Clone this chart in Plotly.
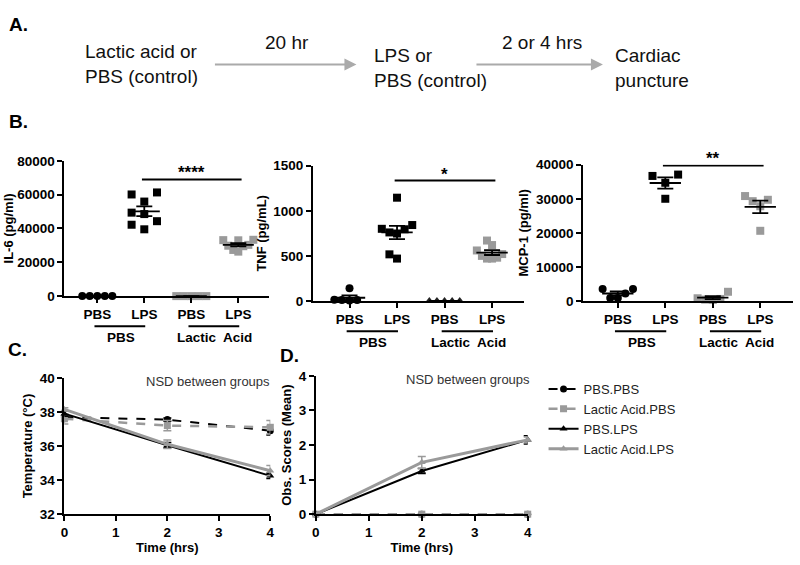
import numpy as np
import plotly.graph_objects as go

W, H = 800, 565

# ---------------- data ----------------
b_categories = ["PBS", "LPS", "PBS", "LPS"]
b_group_labels = ["PBS", "Lactic  Acid"]

il6_pbs_pbs = [0, 0, 0, 0, 0]
il6_pbs_lps = [61300, 55900, 60100, 49350, 44300, 48500, 39500, 42200]
il6_la_pbs = [0, 0, 0, 0, 0]
il6_la_lps = [33300, 33100, 33000, 30300, 29800, 29500, 27300, 26300]

tnf_pbs_pbs = [140, 10, 5, 15, 10]
tnf_pbs_lps = [1145, 842, 800, 760, 795, 748, 470, 517]
tnf_la_pbs = [0, 0, 0, 0, 0]
tnf_la_lps = [670, 620, 560, 520, 500, 480, 470, 470]

mcp_pbs_pbs = [3500, 3500, 2200, 900, 900]
mcp_pbs_lps = [36700, 37100, 34700, 30000]
mcp_la_pbs = [2700, 800, 600, 400, 300]
mcp_la_lps = [30800, 29700, 29300, 27800, 20600]

sig_labels = ["****", "*", "**"]
sig_levels = [69000, 1335, 39800]

time_hrs = [0, 2, 4]
series_names = ["PBS.PBS", "Lactic Acid.PBS", "PBS.LPS", "Lactic Acid.LPS"]

temp_pbs_pbs = [37.7, 37.55, 36.9]
temp_pbs_pbs_sem = [0.15, 0.1, 0.25]
temp_la_pbs = [37.6, 37.2, 37.1]
temp_la_pbs_sem = [0.3, 0.3, 0.4]
temp_pbs_lps = [37.9, 36.05, 34.25]
temp_pbs_lps_sem = [0.15, 0.15, 0.15]
temp_la_lps = [38.15, 36.1, 34.55]
temp_la_lps_sem = [0.1, 0.25, 0.3]

obs_pbs_pbs = [0, 0, 0]
obs_pbs_pbs_sem = [0, 0, 0]
obs_la_pbs = [0, 0, 0]
obs_la_pbs_sem = [0, 0, 0]
obs_pbs_lps = [0, 1.25, 2.15]
obs_pbs_lps_sem = [0, 0.07, 0.12]
obs_la_lps = [0, 1.5, 2.15]
obs_la_lps_sem = [0, 0.17, 0.08]

# ---------------- style ----------------
BLACK = "#000000"
GRAY = "#9a9a9a"
FONT = "Arial, Liberation Sans, sans-serif"
TICK_SIZE = 13.5


def px(x):
    return x / W


def py(y):
    return 1 - y / H


def dom_x(left, right):
    return [px(left), px(right)]


def dom_y(top, bottom):
    return [py(bottom), py(top)]


def axis_style(**kw):
    d = dict(showgrid=False, zeroline=False, showline=True, linecolor=BLACK,
             linewidth=2, ticks="outside", ticklen=5, tickwidth=2,
             tickcolor=BLACK, tickformat="d",
             tickfont=dict(family=FONT, size=TICK_SIZE, color=BLACK, weight="bold"),
             title_font=dict(family=FONT, size=13, color=BLACK, weight="bold"),
             fixedrange=True)
    d.update(kw)
    return d


def swarm(vals, center, px_per_unit, step=0.27, min_px=11, max_half=0.32):
    """Scatter-dot-plot layout: spread close values sideways, compress to max width."""
    vals = np.asarray(vals, dtype=float)
    offs = np.zeros(len(vals))
    placed = []
    for i in np.argsort(vals, kind="stable"):
        ypx = vals[i] * px_per_unit
        k = 0
        while True:
            off = 0.0 if k == 0 else ((k + 1) // 2) * step * (1 if k % 2 == 0 else -1)
            ok = all(abs(ypx - yy) >= min_px or abs(off - po) >= step * 0.99
                     for po, yy in placed)
            if ok:
                break
            k += 1
        placed.append((off, ypx))
        offs[i] = off
    widest = np.max(np.abs(offs))
    if widest > max_half:
        offs = offs * (max_half / widest)
    return center + offs


fig = go.Figure()
layout = {}
shapes = []
annotations = []

# ---------------- panel B ----------------
b_panels = [
    dict(idx=1, xd=dom_x(61, 268), yd=dom_y(158, 297), xr=[0.30, 4.66], yr=[0, 80000], dt=20000,
         title="IL-6 (pg/ml)", sd=1,
         groups=[il6_pbs_pbs, il6_pbs_lps, il6_la_pbs, il6_la_lps],
         syms=["circle", "square", "square", "square"], cols=[BLACK, BLACK, GRAY, GRAY]),
    dict(idx=2, xd=dom_x(312, 525), yd=dom_y(163, 302), xr=[0.229, 4.667], yr=[0, 1500], dt=500,
         title="TNF (pg/mL)", sd=4,
         groups=[tnf_pbs_pbs, tnf_pbs_lps, tnf_la_pbs, tnf_la_lps],
         syms=["circle", "square", "triangle-up", "square"], cols=[BLACK, BLACK, "#222222", GRAY]),
    dict(idx=3, xd=dom_x(585, 797), yd=dom_y(162, 302), xr=[0.27, 4.69], yr=[0, 40000], dt=10000,
         title="MCP-1 (pg/ml)", sd=4,
         groups=[mcp_pbs_pbs, mcp_pbs_lps, mcp_la_pbs, mcp_la_lps],
         syms=["circle", "square", "square", "square"], cols=[BLACK, BLACK, GRAY, GRAY]),
]

for p, sig_lab, sig_val in zip(b_panels, sig_labels, sig_levels):
    i = p["idx"]
    xa, ya = f"x{i}", f"y{i}"
    layout[f"xaxis{i}"] = axis_style(domain=p["xd"], range=p["xr"], anchor=ya,
                                     tickvals=[1, 2, 3, 4], ticktext=b_categories)
    layout[f"yaxis{i}"] = axis_style(domain=p["yd"], range=p["yr"], anchor=xa, dtick=p["dt"],
                                     title=dict(text=p["title"], standoff=p["sd"]))
    px_per_unit = (p["yd"][1] - p["yd"][0]) * H / (p["yr"][1] - p["yr"][0])
    for c, (vals, sym, col) in enumerate(zip(p["groups"], p["syms"], p["cols"]), start=1):
        xs = swarm(vals, c, px_per_unit)
        fig.add_trace(go.Scatter(x=xs, y=vals, mode="markers", xaxis=xa, yaxis=ya,
                                 marker=dict(symbol=sym, size=8, color=col, line=dict(width=0)),
                                 cliponaxis=False, showlegend=False, hoverinfo="y"))
        m = float(np.mean(vals))
        sem = float(np.std(vals, ddof=1) / np.sqrt(len(vals)))
        fig.add_trace(go.Scatter(x=[c - 0.33, c + 0.33], y=[m, m], mode="lines", xaxis=xa, yaxis=ya,
                                 line=dict(color=BLACK, width=1.8), showlegend=False, hoverinfo="skip"))
        fig.add_trace(go.Scatter(x=[c], y=[m], mode="markers", xaxis=xa, yaxis=ya,
                                 marker=dict(size=1, color="rgba(0,0,0,0)"),
                                 error_y=dict(type="data", array=[sem], color=BLACK, thickness=1.8, width=8),
                                 cliponaxis=False, showlegend=False, hoverinfo="skip"))
    # significance bar
    shapes.append(dict(type="line", xref=xa, yref=ya, x0=1.95, x1=4.07, y0=sig_val, y1=sig_val,
                       line=dict(color=BLACK, width=2)))
    annotations.append(dict(xref=xa, yref=ya, x=3, y=sig_val, text=sig_lab, showarrow=False,
                            yanchor="bottom", yshift=-5,
                            font=dict(family=FONT, size=17, color=BLACK, weight="bold")))
    # group labels under the axis
    bottom_px = (1 - p["yd"][0]) * H
    for (c1, c2), lab in zip([(1, 2), (3, 4)], b_group_labels):
        shapes.append(dict(type="line", xref=xa, yref="paper", x0=c1 - 0.06, x1=c2 + 0.02,
                           y0=py(bottom_px + 31), y1=py(bottom_px + 31),
                           line=dict(color=BLACK, width=2)))
        annotations.append(dict(xref=xa, yref="paper", x=(c1 + c2) / 2, y=py(bottom_px + 43),
                                text=lab, showarrow=False, yanchor="middle",
                                font=dict(family=FONT, size=13.5, color=BLACK, weight="bold")))

# ---------------- panels C and D ----------------
styles = [
    dict(sym="circle", col=BLACK, dash="dash", w=2),
    dict(sym="square", col=GRAY, dash="dash", w=2.5),
    dict(sym="triangle-up", col=BLACK, dash="solid", w=2),
    dict(sym="triangle-up", col=GRAY, dash="solid", w=3),
]
temp_series = [(temp_pbs_pbs, temp_pbs_pbs_sem), (temp_la_pbs, temp_la_pbs_sem),
               (temp_pbs_lps, temp_pbs_lps_sem), (temp_la_lps, temp_la_lps_sem)]
obs_series = [(obs_pbs_pbs, obs_pbs_pbs_sem), (obs_la_pbs, obs_la_pbs_sem),
              (obs_pbs_lps, obs_pbs_lps_sem), (obs_la_lps, obs_la_lps_sem)]

layout["xaxis4"] = axis_style(domain=dom_x(61, 269), range=[0, 4], anchor="y4", dtick=1,
                              title=dict(text="Time (hrs)", standoff=4))
layout["yaxis4"] = axis_style(domain=dom_y(381, 521), range=[32, 40], anchor="x4", dtick=2,
                              title=dict(text="Temperature (°C)", standoff=4))
layout["xaxis5"] = axis_style(domain=dom_x(315, 529), range=[0, 4], anchor="y5", dtick=1,
                              title=dict(text="Time (hrs)", standoff=4))
layout["yaxis5"] = axis_style(domain=dom_y(379, 521), range=[0, 4], anchor="x5", dtick=1,
                              title=dict(text="Obs. Scores (Mean)", standoff=4))

for name, st, (tv, ts), (ov, os_) in zip(series_names, styles, temp_series, obs_series):
    for xa, ya, vals, sems, leg in [("x4", "y4", tv, ts, True), ("x5", "y5", ov, os_, False)]:
        fig.add_trace(go.Scatter(
            x=time_hrs, y=vals, mode="lines+markers", name=name, xaxis=xa, yaxis=ya,
            line=dict(color=st["col"], width=st["w"], dash=st["dash"]),
            marker=dict(symbol=st["sym"], size=7, color=st["col"]),
            error_y=dict(type="data", array=sems, color=st["col"], thickness=1.5, width=4),
            cliponaxis=False, showlegend=leg, legendgroup=name))

for xr_, yc in [(271, 385), (533, 383)]:
    annotations.append(dict(xref="paper", yref="paper", x=px(xr_), y=py(yc), text="NSD between groups",
                            showarrow=False, xanchor="right", yanchor="middle",
                            font=dict(family=FONT, size=13, color="#333333")))

# ---------------- panel A (workflow) ----------------
AFONT = dict(family=FONT, size=19, color="#111111")
for txt, x, y, xa_ in [
    ("Lactic acid or<br>PBS (control)", 80, 59, "left"),
    ("20 hr", 286, 36, "center"),
    ("LPS or<br>PBS (control)", 372, 63, "left"),
    ("2 or 4 hrs", 543, 36, "center"),
    ("Cardiac<br>puncture", 615, 63, "left"),
]:
    annotations.append(dict(xref="paper", yref="paper", x=px(x), y=py(y), text=txt, showarrow=False,
                            xanchor=xa_, yanchor="middle", align="left", font=AFONT))
for head, tail in [(356, 213), (605, 477)]:
    annotations.append(dict(xref="paper", yref="paper", x=px(head), y=py(59), ax=tail - head, ay=0,
                            text="", showarrow=True, arrowhead=2, arrowsize=1.2, arrowwidth=2,
                            arrowcolor="#aaaaaa"))

# panel letters
for txt, x, y in [("A.", 3, 18), ("B.", 3, 118), ("C.", 2, 352), ("D.", 277, 358)]:
    annotations.append(dict(xref="paper", yref="paper", x=px(x), y=py(y), text=txt, showarrow=False,
                            xanchor="left", yanchor="middle",
                            font=dict(family=FONT, size=19, color=BLACK, weight="bold")))

fig.update_layout(
    width=W, height=H, margin=dict(l=0, r=0, t=0, b=0),
    paper_bgcolor="white", plot_bgcolor="white",
    showlegend=True,
    legend=dict(x=px(545), y=py(377), xanchor="left", yanchor="top",
                font=dict(family=FONT, size=13, color="#222222"),
                bgcolor="rgba(0,0,0,0)", itemwidth=30, tracegroupgap=0),
    shapes=shapes, annotations=annotations,
    **layout,
)

fig.write_html("out.html", config={"displayModeBar": False},
               post_script="document.body.style.margin='0px';document.body.style.overflow='hidden';")
